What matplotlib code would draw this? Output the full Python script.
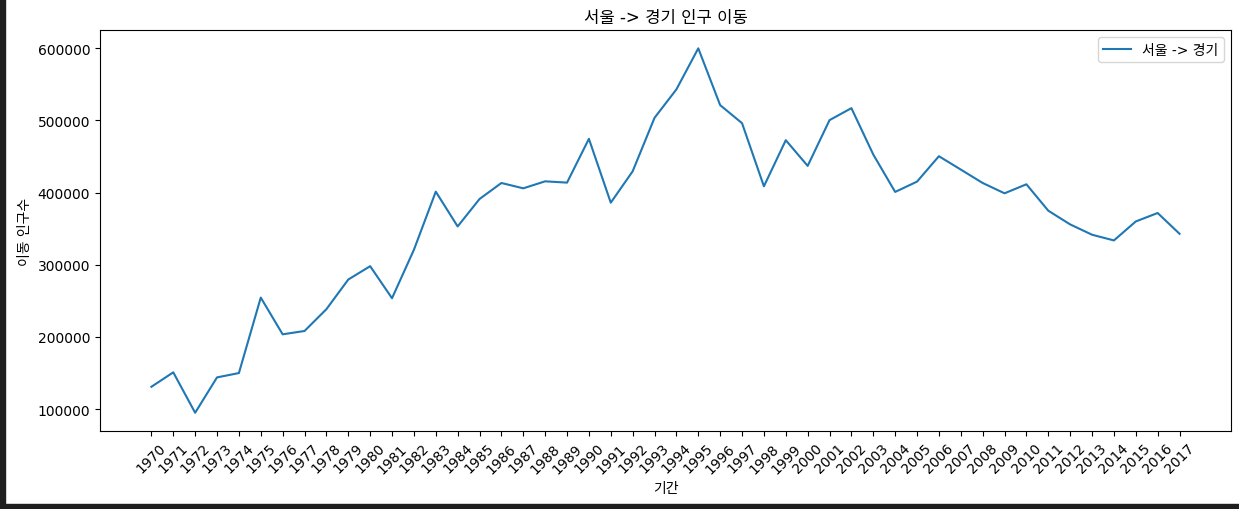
import matplotlib
matplotlib.use("Agg")
import matplotlib.pyplot as plt
from matplotlib.patches import Rectangle

# DejaVu for digits and latin, Noto CJK picks up the hangul
plt.rcParams["font.family"] = ["DejaVu Sans", "Noto Sans CJK KR"]
plt.rcParams["axes.unicode_minus"] = False

# Seoul -> Gyeonggi migration
years = [str(y) for y in range(1970, 2018)]
moves = [
    131000, 151000, 95000, 144000, 150000, 254600, 203700, 208300,
    238500, 279600, 298100, 253700, 320800, 401400, 353200, 391200,
    413400, 406000, 415700, 413900, 474600, 386100, 429600, 503700,
    543100, 600000, 521300, 496300, 408800, 472700, 437100, 500500,
    517100, 452800, 401000, 415300, 450500, 432000, 413400, 399100,
    411600, 375000, 356000, 341700, 333800, 360100, 371800, 343000,
]

fig = plt.figure(figsize=(12.39, 5.10), dpi=100)
ax = fig.add_axes([0.0807, 0.153, 0.9128, 0.786])

ax.plot(years, moves, label="서울 -> 경기")
ax.set_title("서울 -> 경기 인구 이동")
ax.set_xlabel("기간")
ax.set_ylabel("이동 인구수")
ax.legend(loc="best")
plt.setp(ax.get_xticklabels(), rotation=45)

# dark screenshot frame on the left and bottom edges
fig.patches.append(Rectangle((0, 0), 5 / 1239, 1, transform=fig.transFigure,
                             color="#1e1e1e", zorder=10))
fig.patches.append(Rectangle((0, 0), 1, 5 / 510, transform=fig.transFigure,
                             color="#1e1e1e", zorder=10))

fig.savefig("out.png", dpi=100)
